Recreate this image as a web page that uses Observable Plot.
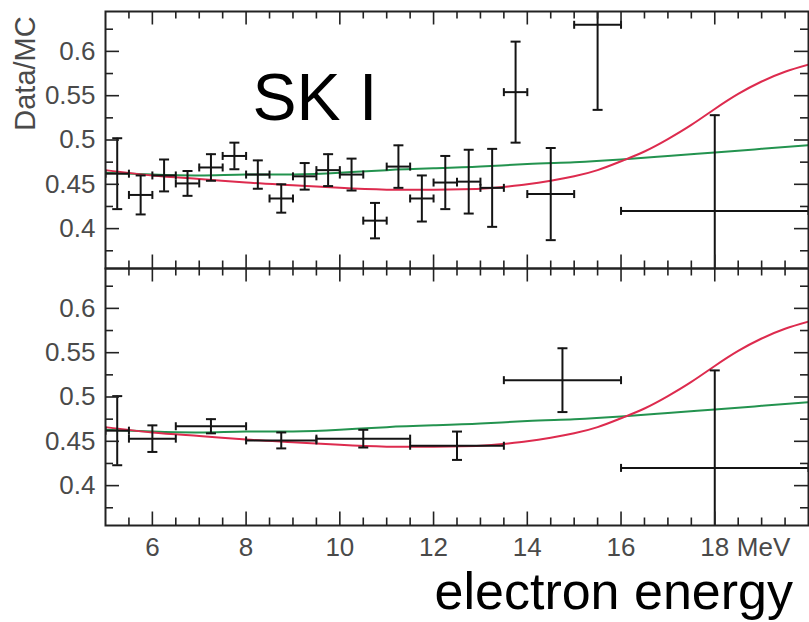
<!DOCTYPE html>
<html>
<head>
<meta charset="utf-8">
<script src="https://cdn.jsdelivr.net/npm/d3@7"></script>
<script src="https://cdn.jsdelivr.net/npm/@observablehq/plot@0.6"></script>
<style>
  body { margin: 0; background: #fff; }
  #wrap { position: relative; width: 809px; height: 622px; font-family: "Liberation Sans", Arial, Helvetica, sans-serif; }
  #chart svg { display: block; }
  #xlabel { position: absolute; right: 16px; top: 565px; font-size: 52px; line-height: 52px; color: #000; white-space: nowrap; }
</style>
</head>
<body>
<div id="wrap">
  <div id="chart"></div>
  <div id="xlabel">electron energy</div>
</div>
<script>
// Upper panel: fine energy bins (MeV), Data/MC ratio and its error
const upperLo    = [5, 5.5, 6, 6.5, 7, 7.5, 8, 8.5, 9, 9.5, 10, 10.5, 11, 11.5, 12, 12.5, 13, 13.5, 14, 15, 16];
const upperHi    = [5.5, 6, 6.5, 7, 7.5, 8, 8.5, 9, 9.5, 10, 10.5, 11, 11.5, 12, 12.5, 13, 13.5, 14, 15, 16, 20];
const upperRatio = [0.462, 0.438, 0.460, 0.451, 0.469, 0.482, 0.461, 0.434, 0.459, 0.466, 0.461, 0.409, 0.470, 0.434, 0.452, 0.453, 0.446, 0.554, 0.439, 0.630, 0.420];
const upperErr   = [0.040, 0.022, 0.018, 0.014, 0.015, 0.015, 0.016, 0.016, 0.015, 0.018, 0.018, 0.020, 0.024, 0.026, 0.030, 0.036, 0.044, 0.057, 0.052, 0.096, 0.108];

// Lower panel: coarse energy bins
const lowerLo    = [5, 5.5, 6.5, 8, 9.5, 11.5, 13.5, 16];
const lowerHi    = [5.5, 6.5, 8, 9.5, 11.5, 13.5, 16, 20];
const lowerRatio = [0.462, 0.453, 0.467, 0.451, 0.453, 0.445, 0.519, 0.420];
const lowerErr   = [0.039, 0.015, 0.008, 0.009, 0.010, 0.016, 0.036, 0.110];

// Expected spectrum shapes (same in both panels)
const redX   = [5, 6, 7, 8, 9, 10, 11, 12, 13, 13.5, 14, 14.5, 15, 15.5, 16, 16.5, 17, 17.5, 18, 18.5, 19, 19.5, 20];
const redY   = [0.466, 0.460, 0.456, 0.452, 0.449, 0.446, 0.444, 0.444, 0.445, 0.447, 0.450, 0.454, 0.459, 0.466, 0.476, 0.487, 0.501, 0.517, 0.535, 0.552, 0.566, 0.577, 0.585];
const greenX = [5, 6, 7, 8, 9, 10, 11, 12, 13, 14, 15, 16, 17, 18, 19, 20];
const greenY = [0.463, 0.461, 0.460, 0.461, 0.461, 0.463, 0.466, 0.468, 0.470, 0.473, 0.475, 0.478, 0.482, 0.486, 0.490, 0.494];

// Axis ticks
const xMajor = [6, 8, 10, 12, 14, 16, 18];
const xMinor = d3.range(5.5, 20, 0.5).filter(v => !xMajor.includes(v));
const yMajor = [0.4, 0.45, 0.5, 0.55, 0.6];
const yMinor = [0.375, 0.425, 0.475, 0.525, 0.575, 0.625];

const panels = ["upper", "lower"];

const rows = [
  ...upperLo.map((lo, i) => ({panel: "upper", lo, hi: upperHi[i], ratio: upperRatio[i], err: upperErr[i]})),
  ...lowerLo.map((lo, i) => ({panel: "lower", lo, hi: lowerHi[i], ratio: lowerRatio[i], err: lowerErr[i]}))
];

const W = 809, H = 566;
const M = {top: 10, right: 1, bottom: 41, left: 105};
const bandH = (H - M.top - M.bottom) / panels.length;
const innerW = W - M.left - M.right;

// Cap glyphs for the error bars
const capH = {draw(c, size) { const r = Math.sqrt(size / Math.PI); c.moveTo(-r, 0); c.lineTo(r, 0); }};
const capV = {draw(c, size) { const r = Math.sqrt(size / Math.PI); c.moveTo(0, -r); c.lineTo(0, r); }};

const ink = "#141414";
const axisInk = "#222";
const labelInk = "#4a4a4a";
const majorLen = 13, minorLen = 7;

const mid = d => (d.lo + d.hi) / 2;

const chart = Plot.plot({
  width: W,
  height: H,
  marginTop: M.top,
  marginRight: M.right,
  marginBottom: M.bottom,
  marginLeft: M.left,
  style: {fontFamily: "'Liberation Sans', Arial, Helvetica, sans-serif", background: "#fff"},
  x: {domain: [5, 20]},
  y: {domain: [0.355, 0.645]},
  fy: {domain: panels, padding: 0, axis: null},
  marks: [
    // model curves
    Plot.line(greenX, {x: greenX, y: greenY, stroke: "#23934f", strokeWidth: 2, curve: "natural", clip: true}),
    Plot.line(redX, {x: redX, y: redY, stroke: "#dd2b4e", strokeWidth: 2, curve: "natural", clip: true}),

    // error bars
    Plot.ruleX(rows, {x: mid, y1: d => d.ratio - d.err, y2: d => d.ratio + d.err, fy: "panel", stroke: ink, strokeWidth: 2, clip: true}),
    Plot.ruleY(rows, {y: "ratio", x1: "lo", x2: "hi", fy: "panel", stroke: ink, strokeWidth: 2, clip: true}),
    Plot.dot(rows, {x: mid, y: d => d.ratio + d.err, fy: "panel", symbol: capH, r: 5, stroke: ink, strokeWidth: 2, fill: "none", clip: true}),
    Plot.dot(rows, {x: mid, y: d => d.ratio - d.err, fy: "panel", symbol: capH, r: 5, stroke: ink, strokeWidth: 2, fill: "none", clip: true}),
    Plot.dot(rows, {x: "lo", y: "ratio", fy: "panel", symbol: capV, r: 4, stroke: ink, strokeWidth: 2, fill: "none", clip: true}),
    Plot.dot(rows, {x: "hi", y: "ratio", fy: "panel", symbol: capV, r: 4, stroke: ink, strokeWidth: 2, fill: "none", clip: true}),

    // inward ticks on all four sides of each panel
    Plot.tickX(xMajor, {x: d => d, insetTop: bandH - majorLen - 1, stroke: axisInk, strokeWidth: 1.6}),
    Plot.tickX(xMinor, {x: d => d, insetTop: bandH - minorLen - 1, stroke: axisInk, strokeWidth: 1.6}),
    Plot.tickX(xMajor, {x: d => d, insetBottom: bandH - majorLen - 1, stroke: axisInk, strokeWidth: 1.6}),
    Plot.tickX(xMinor, {x: d => d, insetBottom: bandH - minorLen - 1, stroke: axisInk, strokeWidth: 1.6}),
    Plot.tickY(yMajor, {y: d => d, insetRight: innerW - majorLen - 1, stroke: axisInk, strokeWidth: 1.6}),
    Plot.tickY(yMinor, {y: d => d, insetRight: innerW - minorLen - 1, stroke: axisInk, strokeWidth: 1.6}),
    Plot.tickY(yMajor, {y: d => d, insetLeft: innerW - majorLen - 1, stroke: axisInk, strokeWidth: 1.6}),
    Plot.tickY(yMinor, {y: d => d, insetLeft: innerW - minorLen - 1, stroke: axisInk, strokeWidth: 1.6}),

    Plot.frame({stroke: axisInk, strokeWidth: 2}),

    // axes (labels only; ticks drawn above)
    Plot.axisY({ticks: yMajor, tickSize: 0, tickPadding: 10, tickFormat: d => String(d), fontSize: 26, color: labelInk, label: null}),
    Plot.axisX({ticks: xMajor, tickSize: 0, tickPadding: 12, tickFormat: d => String(d), fontSize: 26, color: labelInk, label: null}),
    Plot.text(["MeV"], {x: [xMajor[xMajor.length - 1]], fy: ["lower"], text: d => d, frameAnchor: "bottom", textAnchor: "start", lineAnchor: "top", dx: 22, dy: 12, fontSize: 26, fill: labelInk}),

    // panel annotations
    Plot.text(["Data/MC"], {fy: ["upper"], text: d => d, frameAnchor: "top-left", textAnchor: "middle", lineAnchor: "middle", rotate: -90, dx: -80, dy: 62, fontSize: 29, fill: labelInk}),
    Plot.text(["SK I"], {fy: ["upper"], text: d => d, frameAnchor: "top-left", textAnchor: "start", lineAnchor: "bottom", dx: 147, dy: 108, fontSize: 66, fill: "#000"})
  ]
});

document.getElementById("chart").appendChild(chart);
</script>
</body>
</html>
